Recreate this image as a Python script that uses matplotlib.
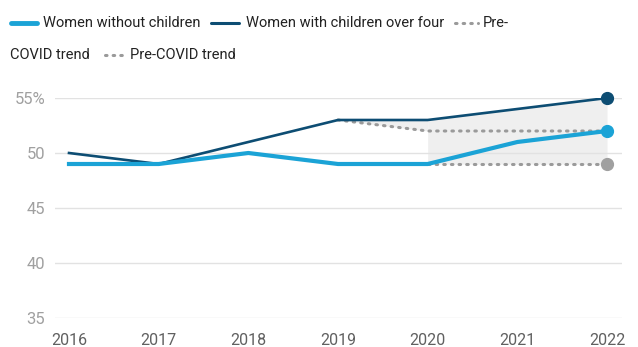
import matplotlib
matplotlib.use("Agg")
import matplotlib.pyplot as plt
from matplotlib.lines import Line2D

plt.rcParams['font.family'] = ['Roboto', 'DejaVu Sans']

# employment rate by year, per cent
years = [2016, 2017, 2018, 2019, 2020, 2021, 2022]
no_children = [49, 49, 50, 49, 49, 51, 52]
children_over_four = [50, 49, 51, 53, 53, 54, 55]

# pre-COVID trend lines
trend_kids_years = [2019, 2020, 2021, 2022]
trend_kids = [53, 52, 52, 52]
trend_nokids_years = [2020, 2021, 2022]
trend_nokids = [49, 49, 49]

yticks = [35, 40, 45, 50, 55]
ytick_labels = ['35', '40', '45', '50', '55%']

light = '#1ba3d6'
dark = '#0d4d73'
grey = '#9a9a9a'
dots = (0, (0.5, 2.0))

fig = plt.figure(figsize=(6.38, 3.47), dpi=100)
ax = fig.add_axes([55 / 638, 1 - 318 / 347, 567 / 638, 220 / 347])

# shaded gap between actual and trend
ax.fill_between(years[3:5], children_over_four[3:5], trend_kids[:2],
                color='#efefef', lw=0, zorder=1)
ax.fill_between(years[4:], children_over_four[4:], trend_nokids,
                color='#efefef', lw=0, zorder=1)

ax.plot(trend_kids_years, trend_kids, color=grey, lw=2.2, ls=dots,
        dash_capstyle='round', zorder=2)
ax.plot(trend_nokids_years, trend_nokids, color=grey, lw=2.2, ls=dots,
        dash_capstyle='round', zorder=2)
ax.plot(years, children_over_four, color=dark, lw=1.9, zorder=3)
ax.plot(years, no_children, color=light, lw=3, zorder=4)

ax.plot(years[-1], trend_nokids[-1], 'o', color='#a0a0a0', ms=8.5, clip_on=False, zorder=5)
ax.plot(years[-1], children_over_four[-1], 'o', color=dark, ms=8.5, clip_on=False, zorder=5)
ax.plot(years[-1], no_children[-1], 'o', color=light, ms=8.5, clip_on=False, zorder=5)

ax.set_xlim(2016 - 14 / 89.7, 2022 + 15 / 89.7)
ax.set_ylim(35, 55)
ax.set_yticks(yticks)
ax.set_yticklabels(ytick_labels)
ax.set_xticks(years)
ax.set_xticklabels([str(y) for y in years])
ax.grid(axis='y', color='#e2e2e2', lw=1, zorder=0)
ax.tick_params(axis='y', length=0, pad=7, labelsize=12, labelcolor='#a0a0a0')
ax.tick_params(axis='x', length=0, pad=11, labelsize=11.5, labelcolor='#606060')
for s in ax.spines.values():
    s.set_visible(False)

# legend, wrapped over two rows
W, H = 638, 347
def handle(x0, x1, y, **kw):
    fig.add_artist(Line2D([x0 / W, x1 / W], [1 - y / H, 1 - y / H],
                          transform=fig.transFigure, **kw))

def label(x, y, s):
    fig.text(x / W, 1 - y / H, s, fontsize=10.5, color='#222222', va='center', ha='left')

handle(11, 37, 23, color=light, lw=3.5, solid_capstyle='round')
label(43, 23, 'Women without children')
handle(211, 239, 23, color=dark, lw=2.2, solid_capstyle='round')
label(246, 23, 'Women with children over four')
handle(455, 478, 23, color=grey, lw=2.2, ls=dots, dash_capstyle='round')
label(483, 23, 'Pre-')
label(10, 55, 'COVID trend')
handle(105, 126, 55, color=grey, lw=2.2, ls=dots, dash_capstyle='round')
label(130, 55, 'Pre-COVID trend')

fig.savefig('out.png', dpi=100)
